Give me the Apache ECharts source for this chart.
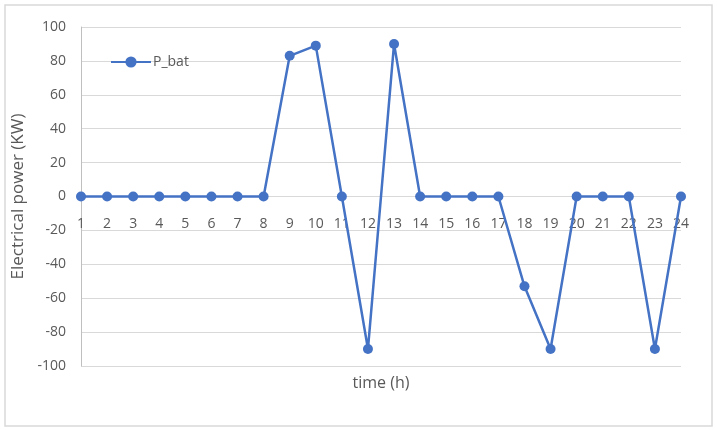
<!DOCTYPE html>
<html><head><meta charset="utf-8">
<script src="https://cdn.jsdelivr.net/npm/echarts@6/dist/echarts.min.js"></script>
<style>html,body{margin:0;padding:0;background:#fff}#c{width:717px;height:430px}</style>
</head><body><div id="c"></div>
<script>
const hours = ['1','2','3','4','5','6','7','8','9','10','11','12','13','14','15','16','17','18','19','20','21','22','23','24'];
const pBat = [0,0,0,0,0,0,0,0,83,89,0,-90,90,0,0,0,0,-53,-90,0,0,0,-90,0];
const yTicks = {min:-100, max:100, interval:20};

const chart = echarts.init(document.getElementById('c'), null, {renderer:'canvas'});
const font = '"Open Sans", Lato, sans-serif';
chart.setOption({
  animation:false,
  textStyle:{fontFamily:font},
  graphic:[{type:'rect', shape:{x:5,y:5,width:707,height:421}, style:{fill:'none', stroke:'#d9d9d9', lineWidth:1.5}, silent:true}],
  grid:{left:81, right:36, top:27, bottom:64, containLabel:false, outerBoundsMode:'none'},
  legend:{left:105, top:50, itemWidth:40, itemHeight:14, itemGap:4,
    textStyle:{color:'#595959', fontSize:14, fontFamily:font, padding:[0,0,0,-3]},
    data:['P_bat']},
  xAxis:{type:'category', data:hours, boundaryGap:false,
    name:'time (h)', nameLocation:'middle', nameGap:179,
    nameTextStyle:{color:'#595959', fontSize:16, fontFamily:font},
    offset:-170,
    axisLine:{onZero:false, lineStyle:{color:'#d9d9d9', width:1}},
    axisTick:{show:false},
    axisLabel:{color:'#595959', fontSize:14, margin:21, fontFamily:font, interval:0},
    splitLine:{show:false}},
  yAxis:{type:'value', min:yTicks.min, max:yTicks.max, interval:yTicks.interval,
    name:'Electrical power (KW)', nameLocation:'middle', nameGap:52,
    nameTextStyle:{color:'#595959', fontSize:17, fontFamily:font},
    axisLine:{show:true, lineStyle:{color:'#bfbfbf', width:1}},
    axisTick:{show:false},
    axisLabel:{color:'#595959', fontSize:14, margin:15, fontFamily:font},
    splitLine:{lineStyle:{color:'#d9d9d9', width:1}}},
  series:[{name:'P_bat', type:'line', data:pBat,
    symbol:'circle', symbolSize:10, showAllSymbol:true,
    lineStyle:{color:'#4472C4', width:2.5},
    itemStyle:{color:'#4472C4'}}]
});
</script></body></html>
